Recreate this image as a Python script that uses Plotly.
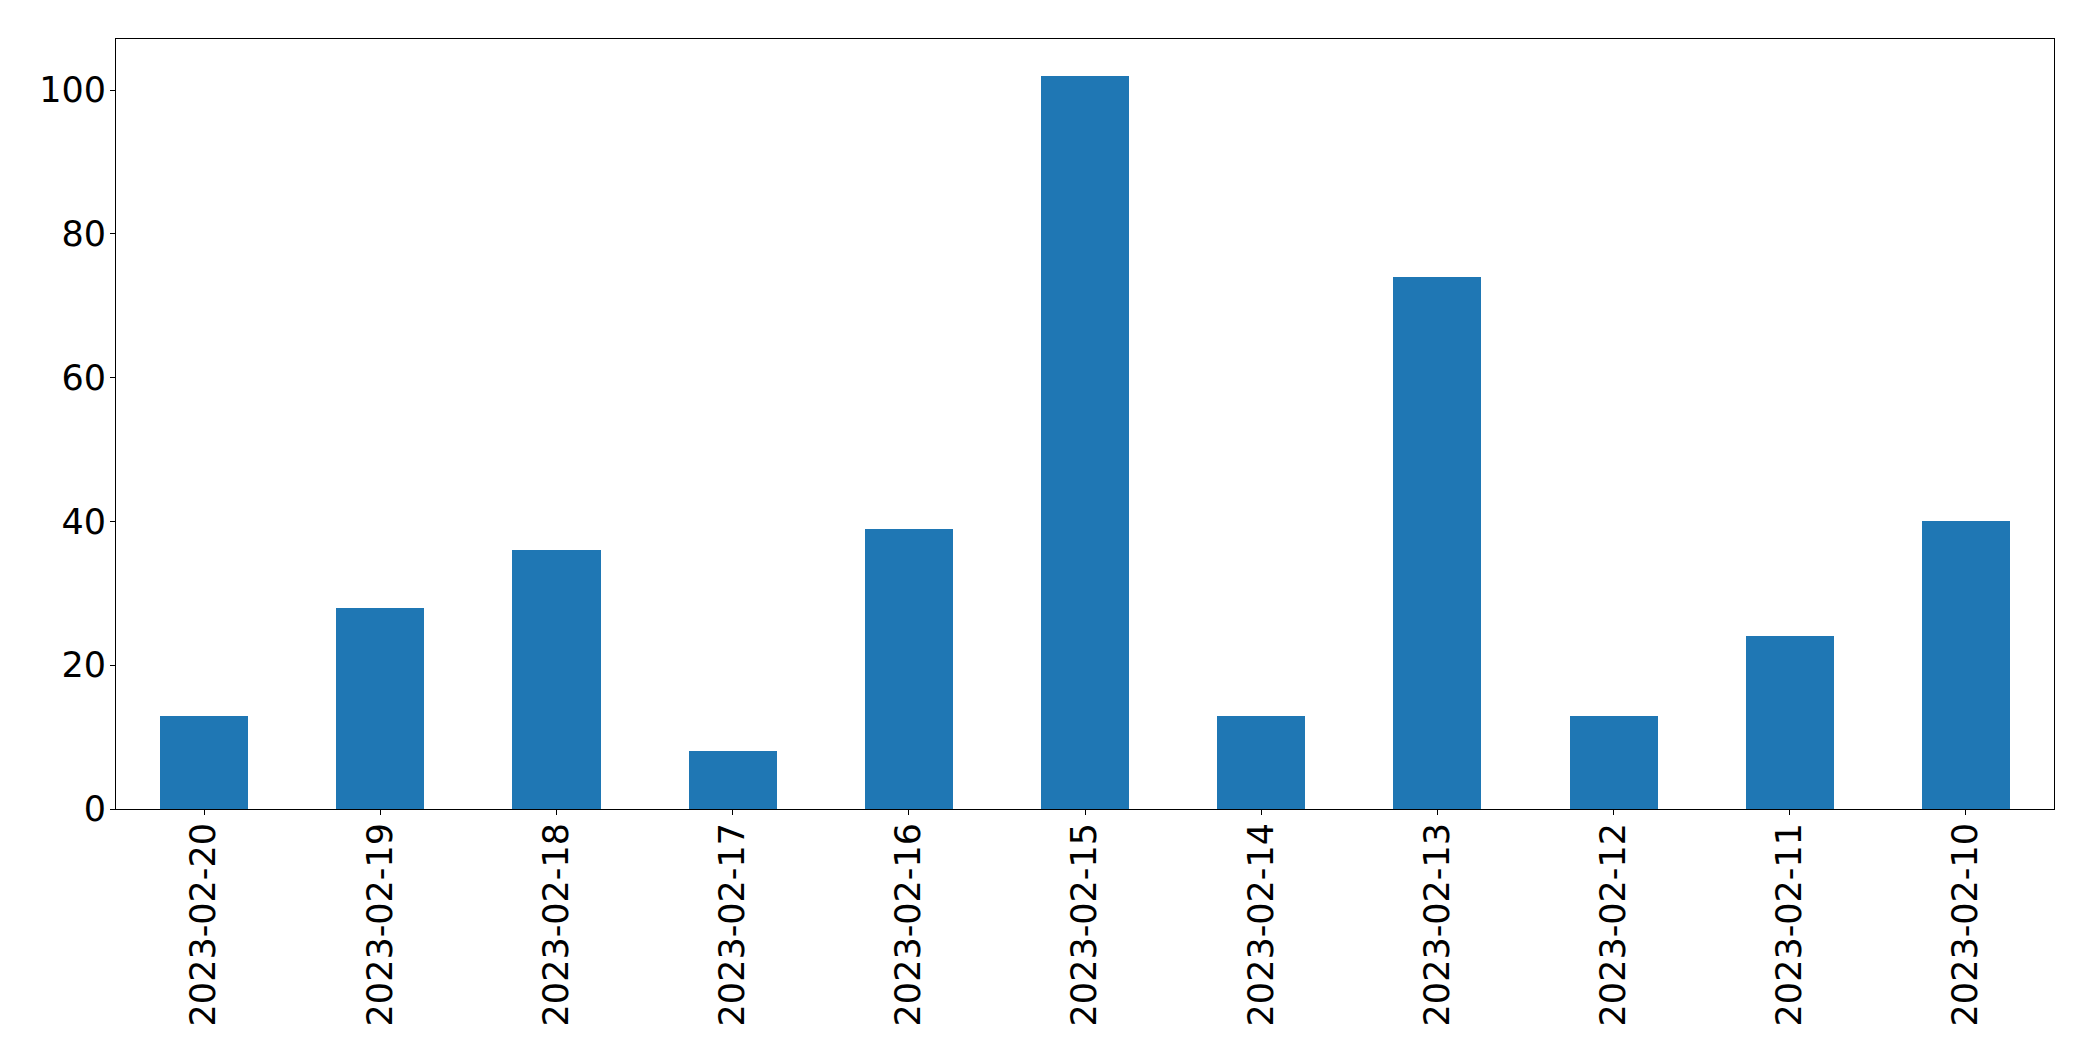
import plotly.graph_objects as go

dates = ["2023-02-20", "2023-02-19", "2023-02-18", "2023-02-17", "2023-02-16",
         "2023-02-15", "2023-02-14", "2023-02-13", "2023-02-12", "2023-02-11",
         "2023-02-10"]
counts = [13, 28, 36, 8, 39, 102, 13, 74, 13, 24, 40]
y_ticks = [0, 20, 40, 60, 80, 100]

fig = go.Figure(go.Bar(x=dates, y=counts, width=0.5, marker_color="#1f77b4",
                       marker_line_width=0))

font = dict(family="DejaVu Sans", size=35, color="black")
fig.update_layout(
    width=2077, height=1045,
    margin=dict(l=108, r=31, t=31, b=244, autoexpand=False),
    paper_bgcolor="white", plot_bgcolor="white",
    showlegend=False, bargap=0,
    font=font,
)
fig.update_xaxes(type="category", range=[-0.5, 10.5], tickangle=-90,
                 showline=True, linecolor="black", linewidth=1, mirror=True,
                 ticks="outside", ticklen=5, tickcolor="black", tickwidth=1,
                 showgrid=False, zeroline=False, tickfont=font, ticklabelstandoff=-6)
fig.update_yaxes(range=[0, 107.1], tickvals=y_ticks,
                 showline=True, linecolor="black", linewidth=1, mirror=True,
                 ticks="outside", ticklen=5, tickcolor="black", tickwidth=1,
                 showgrid=False, zeroline=False, tickfont=font, ticklabelstandoff=-3)

fig.write_html("out.html")
